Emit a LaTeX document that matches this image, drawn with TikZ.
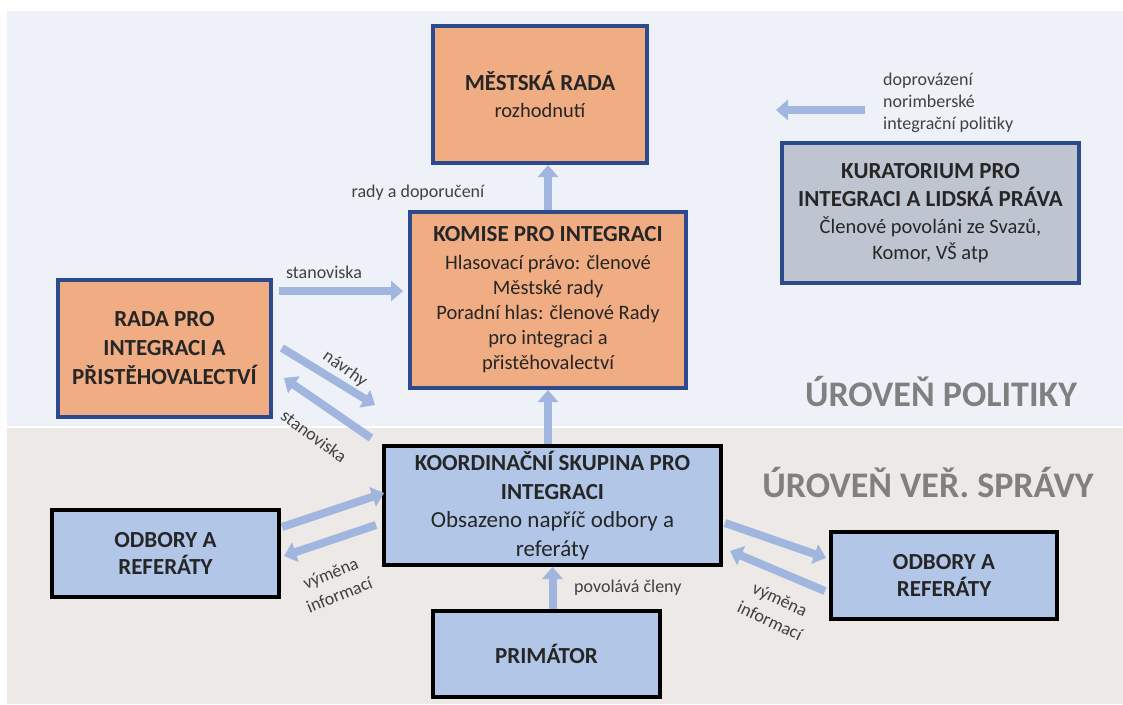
\documentclass[tikz,border=0pt]{standalone}
\usepackage{fontspec}
\setmainfont{Carlito}
\usetikzlibrary{arrows.meta,calc}

\definecolor{bgtop}{RGB}{238,242,248}
\definecolor{bgbottom}{RGB}{236,233,231}
\definecolor{boxorange}{RGB}{240,172,130}
\definecolor{boxblue}{RGB}{178,198,232}
\definecolor{boxgrey}{RGB}{191,197,208}
\definecolor{bdblue}{RGB}{44,74,140}
\definecolor{flowblue}{RGB}{160,182,222}
\definecolor{ink}{RGB}{38,38,38}
\definecolor{labelink}{RGB}{64,64,64}
\definecolor{levelgrey}{RGB}{128,128,128}

\newcommand\titlefont{\bfseries\fontsize{23}{28}\selectfont}
\newcommand\bodyfont{\fontsize{20.5}{25}\selectfont}

\tikzset{
  pane/.style={draw=bdblue, line width=4pt, inner sep=0pt, align=center, text=ink,
    font=\bodyfont},
  orangebox/.style={pane, fill=boxorange},
  greybox/.style={pane, fill=boxgrey},
  bluebox/.style={pane, draw=black, fill=boxblue},
  flow/.style={draw=flowblue, line width=8pt, -{Triangle[width=20pt,length=12pt]}},
  lbl/.style={text=labelink, font=\fontsize{18}{22}\selectfont, inner sep=0pt, align=center},
  tiltlbl/.style={lbl, font=\fontsize{18}{23.5}\selectfont},
  level/.style={text=levelgrey, font=\bfseries\fontsize{36}{40}\selectfont, inner sep=0pt},
}

\begin{document}
\begin{tikzpicture}[x=1pt,y=-1pt]
\useasboundingbox (0,0) rectangle (1123,704);

% two background bands: policy level and administration level
\fill[white] (0,0) rectangle (1123,704);
\fill[bgtop] (7,11) rectangle (1123,427);
\fill[bgbottom] (7,427) rectangle (1123,704);
\draw[white, line width=1.5pt] (7,427) -- (1123,427);

\node[level] (polit) at (941,392) {ÚROVEŇ POLITIKY};
\node[level] (sprava) at (928,483) {ÚROVEŇ VEŘ. SPRÁVY};

% policy level bodies
\node[orangebox, minimum width=214pt, minimum height=137pt,
      font=\fontsize{20.5}{27}\selectfont] (mestska) at (540,94.5)
  {{\titlefont MĚSTSKÁ RADA}\\rozhodnutí};

\node[greybox, minimum width=297pt, minimum height=140pt,
      font=\fontsize{20.5}{26}\selectfont] (kurat) at (930.5,213)
  {{\titlefont KURATORIUM PRO}\\[2pt]{\titlefont INTEGRACI A LIDSKÁ PRÁVA}\\[1pt]
   Členové povoláni ze Svazů,\\Komor, VŠ atp};

\node[orangebox, minimum width=276pt, minimum height=176pt] (komise) at (548,300)
  {{\titlefont KOMISE PRO INTEGRACI}\\[3pt]Hlasovací právo: členové\\
   Městské rady\\Poradní hlas: členové Rady\\
   pro integraci a\\přistěhovalectví};

\node[orangebox, minimum width=213pt, minimum height=137pt,
      font=\bfseries\fontsize{23}{29}\selectfont] (rada) at (164.5,348.5)
  {RADA PRO\\INTEGRACI A\\PŘISTĚHOVALECTVÍ};

% administration level bodies
\node[bluebox, minimum width=337pt, minimum height=119pt,
      font=\fontsize{23}{28.5}\selectfont] (koord) at (552.5,505.5)
  {{\bfseries KOORDINAČNÍ SKUPINA PRO}\\{\bfseries INTEGRACI}\\
   Obsazeno napříč odbory a\\referáty};

\node[bluebox, minimum width=227pt, minimum height=87pt,
      font=\bfseries\fontsize{23}{27}\selectfont] (odbL) at (165.5,553.5)
  {ODBORY A\\REFERÁTY};

\node[bluebox, minimum width=226pt, minimum height=87pt,
      font=\bfseries\fontsize{23}{27}\selectfont] (odbR) at (944,575.5)
  {ODBORY A\\REFERÁTY};

\node[bluebox, minimum width=227pt, minimum height=86pt,
      font=\titlefont] (prim) at (546.5,654)
  {PRIMÁTOR};

% flows between bodies
\draw[flow] (komise.north) -- (komise.north |- mestska.south);
\draw[flow] (komise.south |- koord.north) -- (komise.south);
\draw[flow] (koord.south |- prim.north) -- (koord.south);
\draw[flow] ($(rada.north east)+(6,13)$) -- ($(komise.north west)+(-5,81)$);
\draw[flow] ($(rada.north east)+(9,70)$) -- ($(koord.north west)+(-7,-39)$);
\draw[flow] ($(koord.north west)+(-11,-6)$) -- ($(rada.north east)+(11,100)$);
\draw[flow] ($(odbL.north east)+(1,19)$) -- ($(koord.north west)+(2,49)$);
\draw[flow] ($(koord.north west)+(-6,81)$) -- ($(odbL.north east)+(3,48)$);
\draw[flow] ($(koord.north east)+(2,79)$) -- ($(odbR.north west)+(-3,28)$);
\draw[flow] ($(odbR.north west)+(-4,61)$) -- ($(koord.north east)+(7,107)$);

% flow labels
\node[lbl] (lradyd) at (418,193) {rady a doporučení};
\node[lbl] (lstan1) at (324,272) {stanoviska};
\node[lbl, rotate=-35] (lnavrhy) at (345,369) {návrhy};
\node[lbl, rotate=-36] (lstan2) at (314,436) {stanoviska};
\node[tiltlbl, rotate=22] (lvymL) at (335,584) {výměna\\informací};
\node[tiltlbl, rotate=-25] (lvymR) at (775,610) {výměna\\informací};
\node[lbl, anchor=west] (lpovol) at (574,588) {povolává členy};

% advisory board note with its arrow
\node[lbl, anchor=west, align=left] (kurlbl) at (883,103)
  {doprovázení\\norimberské\\integrační politiky};
\coordinate (kurtip) at (776,110);
\draw[flow] ($(kurlbl.west)+(-18,7)$) -- (kurtip);
\end{tikzpicture}
\end{document}
